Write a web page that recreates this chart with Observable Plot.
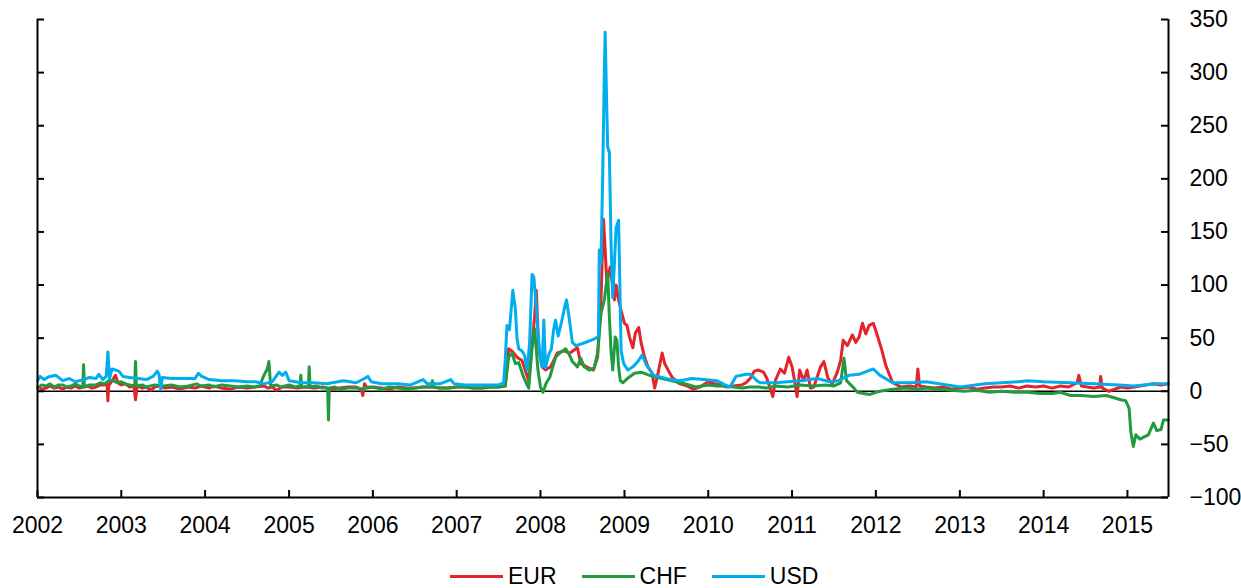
<!DOCTYPE html>
<html><head><meta charset="utf-8">
<script src="https://cdn.jsdelivr.net/npm/d3@7"></script>
<script src="https://cdn.jsdelivr.net/npm/@observablehq/plot@0.6"></script>
<style>
body{margin:0;background:#fff;font-family:"Liberation Sans",Arial,sans-serif;}
#legend{height:48px;box-sizing:border-box;padding-top:24px;padding-left:450px;display:flex;align-items:center;font-size:23px;line-height:24px;color:#000;}
.item{display:flex;align-items:center;margin-right:25px;}
.sw{width:53px;height:3px;margin-right:5px;}
</style></head><body>
<div id="chart"></div>
<div id="legend"></div>
<script>
// Series names and colours
const seriesNames = ["EUR", "CHF", "USD"];
const seriesColors = ["#e3242b", "#229a3e", "#00aeef"];

// [decimal year, value]
const EUR = [
[2002.0,4],[2002.05,2],[2002.1,3],[2002.15,5],[2002.2,3],[2002.25,4],[2002.3,2],[2002.35,4],[2002.4,3],[2002.45,5],[2002.5,3],[2002.55,4],[2002.6,5],[2002.65,3],[2002.7,4],[2002.75,6],[2002.8,6],[2002.83,7],[2002.84,-9],[2002.85,5],[2002.88,9],[2002.9,11],[2002.93,15],[2002.96,8],
[2003.0,6],[2003.05,7],[2003.1,4],[2003.15,5],[2003.17,-8],[2003.19,5],[2003.25,3],[2003.3,4],[2003.35,1],[2003.4,4],[2003.45,5],[2003.52,3],[2003.6,4],[2003.7,2],[2003.8,4],[2003.88,3],[2003.95,5],
[2004.05,3],[2004.1,5],[2004.2,3],[2004.3,2],[2004.4,4],[2004.5,3],[2004.6,4],[2004.7,5],[2004.75,3],[2004.8,4],[2004.85,1],[2004.92,4],[2005.0,4],[2005.1,3],[2005.2,4],[2005.3,3],[2005.4,4],[2005.5,2],[2005.6,3],[2005.7,4],[2005.8,4],[2005.86,2],[2005.88,-4],[2005.9,7],[2005.93,3],
[2006.0,4],[2006.1,3],[2006.2,2],[2006.3,4],[2006.4,3],[2006.5,3],[2006.6,4],[2006.7,4],[2006.8,3],[2006.9,3],[2007.0,4],[2007.1,4],[2007.2,3],[2007.3,3],[2007.4,4],[2007.5,4],[2007.58,5],
[2007.62,40],[2007.66,38],[2007.72,32],[2007.78,29],[2007.83,17],[2007.86,10],[2007.9,45],[2007.93,70],[2007.95,95],[2007.98,40],
[2008.02,23],[2008.06,20],[2008.12,23],[2008.2,36],[2008.28,38],[2008.35,36],[2008.44,41],[2008.48,26],[2008.55,23],[2008.63,20],[2008.68,32],
[2008.72,86],[2008.75,162],[2008.77,133],[2008.79,102],[2008.83,117],[2008.88,86],[2008.9,100],[2008.93,86],[2008.96,76],
[2009.0,64],[2009.03,62],[2009.06,51],[2009.1,41],[2009.13,55],[2009.17,60],[2009.2,45],[2009.24,32],[2009.28,23],[2009.33,17],[2009.36,3],[2009.39,13],[2009.45,36],[2009.48,26],[2009.52,20],[2009.57,13],[2009.65,7.5],[2009.75,5],[2009.82,2],[2009.9,4],
[2010.0,9],[2010.08,7],[2010.15,6],[2010.22,4],[2010.3,5],[2010.4,6],[2010.45,8],[2010.5,12],[2010.55,19],[2010.6,20],[2010.66,18],[2010.7,12],[2010.72,7],[2010.77,-5],[2010.8,10],[2010.86,21],[2010.91,17],[2010.96,32],
[2011.0,23],[2011.03,10],[2011.06,-5],[2011.09,20],[2011.14,10],[2011.18,20],[2011.22,3],[2011.26,4],[2011.34,23],[2011.38,28],[2011.43,12],[2011.48,7],[2011.54,18],[2011.58,29],[2011.61,48],[2011.66,43],[2011.72,53],[2011.76,46],[2011.8,51],[2011.84,64],[2011.88,54],[2011.92,62],[2011.97,64],
[2012.02,52],[2012.07,39],[2012.12,24],[2012.2,8],[2012.3,4],[2012.4,5],[2012.48,4],[2012.5,21],[2012.52,5],[2012.6,4],[2012.7,3],[2012.8,4],[2012.9,2],[2013.0,3],
[2013.1,4],[2013.2,2],[2013.3,3],[2013.4,4],[2013.5,4],[2013.6,5],[2013.7,3],[2013.8,5],[2013.9,4],[2014.0,5],[2014.1,3],[2014.2,5],[2014.3,4],[2014.4,8],[2014.42,15],[2014.45,5],[2014.52,4],[2014.6,3],[2014.67,4],[2014.68,14],[2014.7,3],[2014.78,0],[2014.85,2],
[2014.92,4],[2015.0,3],[2015.08,4],[2015.15,5],[2015.22,6],[2015.3,7],[2015.4,6],[2015.49,7]
];

const CHF = [
[2002.0,3],[2002.05,6],[2002.1,5],[2002.15,7],[2002.2,4],[2002.25,6],[2002.3,6],[2002.35,4],[2002.4,5],[2002.45,7],[2002.5,5],[2002.54,4],[2002.55,25],[2002.56,4],[2002.62,6],[2002.7,6],[2002.75,8],[2002.8,7],[2002.85,10],[2002.9,10],[2002.95,8],
[2003.0,9],[2003.05,7],[2003.1,6],[2003.16,5],[2003.17,28],[2003.18,5],[2003.25,6],[2003.3,4],[2003.4,6],[2003.5,5],[2003.6,6],[2003.7,4],[2003.8,5],[2003.9,7],[2003.95,5],
[2004.05,6],[2004.1,4],[2004.2,6],[2004.3,5],[2004.4,4],[2004.5,5],[2004.58,4],[2004.65,5],[2004.7,15],[2004.74,21],[2004.76,28],[2004.78,5],[2004.85,6],[2004.9,4],
[2005.0,6],[2005.07,4],[2005.13,5],[2005.14,15],[2005.15,4],[2005.23,4],[2005.24,23],[2005.25,4],[2005.32,5],[2005.4,3],[2005.46,3],[2005.47,-27],[2005.48,3],[2005.55,4],[2005.6,2],[2005.7,3],[2005.8,3],[2005.88,2],[2005.95,4],
[2006.05,3],[2006.1,2],[2006.2,4],[2006.3,3],[2006.4,2],[2006.5,3],[2006.6,4],[2006.7,4],[2006.71,10],[2006.73,4],[2006.8,3],[2006.9,3],[2007.0,4],[2007.1,4],[2007.2,3],[2007.3,3],[2007.4,4],[2007.5,4],[2007.58,5],
[2007.62,32],[2007.66,36],[2007.7,26],[2007.74,27],[2007.8,13],[2007.84,6],[2007.86,3],[2007.9,41],[2007.93,59],[2007.97,20],
[2008.0,4],[2008.03,-1],[2008.07,8],[2008.11,13],[2008.18,32],[2008.23,36],[2008.3,40],[2008.34,35],[2008.38,28],[2008.44,23],[2008.48,31],[2008.52,23],[2008.58,20],[2008.64,22],[2008.68,36],
[2008.72,73],[2008.76,86],[2008.8,111],[2008.82,70],[2008.84,38],[2008.86,20],[2008.89,51],[2008.91,48],[2008.93,23],[2008.95,10],[2008.98,8],
[2009.05,13],[2009.12,17],[2009.2,18],[2009.3,15],[2009.4,13],[2009.55,10],[2009.7,7.5],[2009.85,4],
[2010.0,6],[2010.1,5],[2010.2,5],[2010.3,4],[2010.4,3],[2010.5,4],[2010.6,4],[2010.7,3],[2010.8,5],[2010.95,4],[2011.1,6],[2011.25,5],[2011.4,6],[2011.5,5],[2011.58,8],[2011.62,31],[2011.65,10],[2011.7,6],[2011.74,3],[2011.78,-1],[2011.85,-2],[2011.93,-3],
[2012.0,-1],[2012.05,0],[2012.12,1],[2012.2,2],[2012.35,3],[2012.5,2],[2012.6,3],[2012.75,2],[2012.9,1],[2013.05,0],[2013.2,1],[2013.35,-1],[2013.5,0],[2013.65,-1],[2013.8,-1],[2013.95,-2],[2014.1,-2],[2014.2,-1],[2014.32,-4],[2014.45,-4],[2014.6,-5],[2014.75,-4],[2014.92,-8],[2014.98,-9],
[2015.02,-16],[2015.04,-38],[2015.07,-52],[2015.1,-41],[2015.15,-45],[2015.2,-43],[2015.25,-41],[2015.31,-30],[2015.35,-37],[2015.4,-36],[2015.43,-27],[2015.49,-27]
];

const USD = [
[2002.0,10],[2002.03,14],[2002.08,11],[2002.12,13],[2002.15,14],[2002.22,15],[2002.3,10],[2002.38,12],[2002.45,9],[2002.55,11],[2002.62,13],[2002.7,12],[2002.73,16],[2002.78,11],[2002.82,14],[2002.84,37],[2002.86,12],[2002.89,21],[2002.93,20],[2002.97,19],
[2003.02,14],[2003.1,13],[2003.2,12],[2003.3,11],[2003.38,14],[2003.43,19],[2003.45,16],[2003.47,2],[2003.49,13],[2003.6,12],[2003.75,12],[2003.88,12],[2003.92,17],[2003.96,14],
[2004.05,11],[2004.2,10],[2004.35,10],[2004.5,9],[2004.6,9],[2004.7,7],[2004.8,9],[2004.88,18],[2004.92,15],[2004.96,18],
[2005.0,10],[2005.15,8],[2005.3,8],[2005.45,7],[2005.65,10],[2005.8,8],[2005.9,12],[2005.94,14],[2005.98,9],
[2006.1,7],[2006.3,7],[2006.45,6],[2006.6,11],[2006.65,7],[2006.8,7],[2006.93,11],[2006.97,7],[2007.1,6],[2007.3,6],[2007.5,6],[2007.56,8],
[2007.58,30],[2007.6,62],[2007.63,58],[2007.67,95],[2007.7,78],[2007.72,50],[2007.74,40],[2007.78,38],[2007.81,34],[2007.84,20],[2007.87,45],[2007.9,110],[2007.92,108],[2007.95,80],[2007.97,54],
[2008.0,30],[2008.02,23],[2008.04,67],[2008.06,22],[2008.1,35],[2008.13,40],[2008.16,60],[2008.18,67],[2008.21,52],[2008.25,65],[2008.29,80],[2008.31,86],[2008.34,70],[2008.38,46],[2008.42,43],[2008.5,45],[2008.6,48],[2008.66,50],[2008.69,52],
[2008.7,133],[2008.72,120],[2008.74,200],[2008.76,300],[2008.77,338],[2008.78,300],[2008.79,264],[2008.8,230],[2008.82,225],[2008.84,140],[2008.86,88],[2008.88,120],[2008.9,154],[2008.93,161],[2008.94,120],[2008.96,38],[2008.99,26],
[2009.04,20],[2009.1,23],[2009.16,28],[2009.21,34],[2009.26,25],[2009.35,15],[2009.45,13],[2009.55,11],[2009.67,10],[2009.8,12],[2009.95,11],
[2010.1,10],[2010.2,6],[2010.26,4],[2010.33,14],[2010.45,16],[2010.5,16],[2010.58,10],[2010.62,8],[2010.8,8],[2010.95,9],
[2011.1,10],[2011.3,12],[2011.45,9],[2011.55,10],[2011.68,15],[2011.8,16],[2011.9,19],[2011.97,21],[2012.05,15],[2012.2,8],[2012.4,8],[2012.6,9],[2012.85,6],
[2013.0,4],[2013.1,5],[2013.3,7],[2013.5,8],[2013.7,9],[2013.81,10],[2014.0,9],[2014.3,8],[2014.6,7],[2014.9,6],[2015.07,5],[2015.2,6],[2015.35,7],[2015.49,7]
];

// Axis values
const yearLabels = d3.range(2002, 2016);
const yTickValues = d3.range(-100, 351, 50);
const xStart = 2002, xEnd = 2015.49;

const toDate = y => {
  const yr = Math.floor(y);
  const s = Date.UTC(yr, 0, 1), e = Date.UTC(yr + 1, 0, 1);
  return new Date(s + (y - yr) * (e - s));
};

const rows = [];
[EUR, CHF, USD].forEach((arr, i) => {
  for (const [t, v] of arr) rows.push({series: seriesNames[i], date: toDate(t), value: v});
});

const xDomain = [toDate(xStart), toDate(xEnd)];
const yearTicks = yearLabels.map(y => new Date(Date.UTC(y, 0, 1)));

const W = 1241, H = 540, mL = 37, mR = 73, mT = 19, mB = 43;
const innerW = W - mL - mR, innerH = H - mT - mB;

const chart = Plot.plot({
  width: W, height: H,
  marginLeft: mL, marginRight: mR, marginTop: mT, marginBottom: mB,
  style: {fontFamily: '"Liberation Sans", Arial, sans-serif', fontSize: "23px", color: "#000", background: "#fff", overflow: "visible"},
  x: {type: "utc", domain: xDomain},
  y: {domain: [-100, 350]},
  color: {domain: seriesNames, range: seriesColors},
  marks: [
    Plot.ruleY([0], {stroke: "#000", strokeWidth: 1.5}),
    Plot.lineY(rows, {x: "date", y: "value", z: "series", stroke: "series", strokeWidth: 3, strokeLinejoin: "round"}),
    Plot.ruleX([xDomain[0]], {stroke: "#000", strokeWidth: 2}),
    Plot.ruleX([xDomain[1]], {stroke: "#000", strokeWidth: 2}),
    Plot.ruleY([-100], {stroke: "#000", strokeWidth: 2}),
    Plot.tickY(yTickValues, {y: d => d, insetRight: innerW - 7, stroke: "#000", strokeWidth: 2}),
    Plot.tickY(yTickValues, {y: d => d, insetLeft: innerW - 7, stroke: "#000", strokeWidth: 2}),
    Plot.tickX(yearTicks, {x: d => d, insetTop: innerH - 7, stroke: "#000", strokeWidth: 2}),
    Plot.axisX({ticks: yearTicks, tickSize: 0, tickPadding: 19, tickFormat: d3.utcFormat("%Y"), label: null}),
    Plot.axisY({anchor: "right", ticks: yTickValues, tickSize: 0, tickPadding: 21, label: null})
  ]
});
document.getElementById("chart").appendChild(chart);

const legend = document.getElementById("legend");
seriesNames.forEach((n, i) => {
  const it = document.createElement("div");
  it.className = "item";
  const sw = document.createElement("div");
  sw.className = "sw";
  sw.style.background = seriesColors[i];
  const tx = document.createElement("span");
  tx.textContent = n;
  it.appendChild(sw); it.appendChild(tx);
  legend.appendChild(it);
});
</script>
</body></html>
